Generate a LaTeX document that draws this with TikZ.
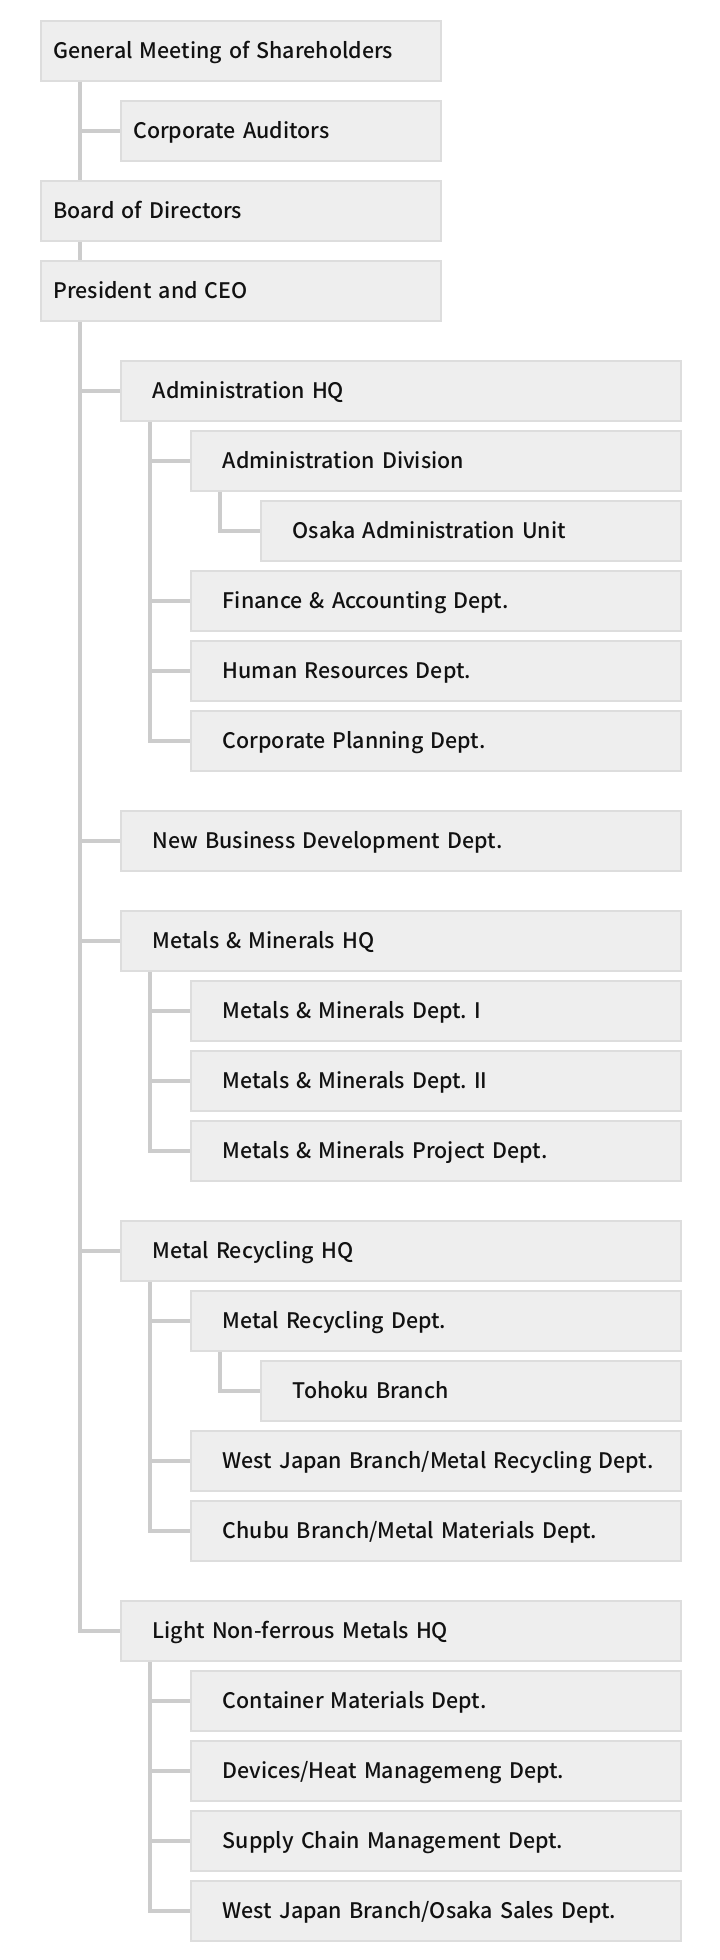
\documentclass[tikz,border=0pt]{standalone}
\usepackage{fontspec}
\setmainfont{Noto Sans CJK JP}[UprightFont={* Medium}]
\frenchspacing
\definecolor{boxfill}{HTML}{EEEEEE}
\definecolor{boxline}{HTML}{DDDDDD}
\definecolor{conncol}{HTML}{CCCCCC}
\definecolor{txt}{HTML}{111111}
\begin{document}
\begin{tikzpicture}[x=1pt,y=-1pt,
  box/.style={draw=boxline, fill=boxfill, line width=1.5pt, anchor=north west,
    minimum height=60pt, inner ysep=2pt, text height=15.4pt, text depth=0pt,
    align=left, text=txt, font=\fontsize{21.4pt}{24pt}\selectfont},
  wtop/.style={inner xsep=12.5pt, text width=375pt},
  wca/.style={inner xsep=12.5pt, text width=295pt},
  wone/.style={inner xsep=32pt, text width=496pt},
  wtwo/.style={inner xsep=32pt, text width=426pt},
  wthree/.style={inner xsep=32pt, text width=356pt},
  conn/.style={draw=conncol, line width=4pt}]
\useasboundingbox (0,0) rectangle (720,1960);
% boxes
\node[box,wtop] (gm) at (40,20) {General Meeting of Shareholders};
\node[box,wca] (ca) at (120,100) {Corporate Auditors};
\node[box,wtop] (board) at (40,180) {Board of Directors};
\node[box,wtop] (pres) at (40,260) {President and CEO};
\node[box,wone] (admhq) at (120,360) {Administration HQ};
\node[box,wtwo] (admdiv) at (190,430) {Administration Division};
\node[box,wthree] (osaka) at (260,500) {Osaka Administration Unit};
\node[box,wtwo] (fin) at (190,570) {Finance \& Accounting Dept.};
\node[box,wtwo] (hr) at (190,640) {Human Resources Dept.};
\node[box,wtwo] (cp) at (190,710) {Corporate Planning Dept.};
\node[box,wone] (newbiz) at (120,810) {New Business Development Dept.};
\node[box,wone] (mmhq) at (120,910) {Metals \& Minerals HQ};
\node[box,wtwo] (mmone) at (190,980) {Metals \& Minerals Dept. I};
\node[box,wtwo] (mmtwo) at (190,1050) {Metals \& Minerals Dept. II};
\node[box,wtwo] (mmproj) at (190,1120) {Metals \& Minerals Project Dept.};
\node[box,wone] (mrhq) at (120,1220) {Metal Recycling HQ};
\node[box,wtwo] (mrdept) at (190,1290) {Metal Recycling Dept.};
\node[box,wthree] (tohoku) at (260,1360) {Tohoku Branch};
\node[box,wtwo] (wjmr) at (190,1430) {\mbox{West Japan Branch/Metal Recycling Dept.}};
\node[box,wtwo] (chubu) at (190,1500) {Chubu Branch/Metal Materials Dept.};
\node[box,wone] (lnf) at (120,1600) {Light Non-ferrous Metals HQ};
\node[box,wtwo] (cont) at (190,1670) {Container Materials Dept.};
\node[box,wtwo] (dev) at (190,1740) {Devices/Heat Managemeng Dept.};
\node[box,wtwo] (sup) at (190,1810) {Supply Chain Management Dept.};
\node[box,wtwo] (wjos) at (190,1880) {West Japan Branch/Osaka Sales Dept.};
% connectors
\coordinate (t0) at ([xshift=40pt]gm.south west);
\draw[conn] (t0) -- (t0 |- board.north);
\draw[conn] (t0) |- (ca.west);
\coordinate (t1) at ([xshift=40pt]board.south west);
\draw[conn] (t1) -- (t1 |- pres.north);
\coordinate (t2) at ([xshift=40pt]pres.south west);
\draw[conn] (t2) |- (lnf.west);
\foreach \n in {admhq,newbiz,mmhq,mrhq}{\draw[conn] (\n.west) -- (\n.west -| t2);}
% Administration HQ
\coordinate (a1) at ([xshift=30pt]admhq.south west);
\draw[conn] (a1) |- (cp.west);
\foreach \n in {admdiv,fin,hr}{\draw[conn] (\n.west) -- (\n.west -| a1);}
\coordinate (a2) at ([xshift=30pt]admdiv.south west);
\draw[conn] (a2) |- (osaka.west);
% Metals & Minerals HQ
\coordinate (m1) at ([xshift=30pt]mmhq.south west);
\draw[conn] (m1) |- (mmproj.west);
\foreach \n in {mmone,mmtwo}{\draw[conn] (\n.west) -- (\n.west -| m1);}
% Metal Recycling HQ
\coordinate (r1) at ([xshift=30pt]mrhq.south west);
\draw[conn] (r1) |- (chubu.west);
\foreach \n in {mrdept,wjmr}{\draw[conn] (\n.west) -- (\n.west -| r1);}
\coordinate (r2) at ([xshift=30pt]mrdept.south west);
\draw[conn] (r2) |- (tohoku.west);
% Light Non-ferrous Metals HQ
\coordinate (l1) at ([xshift=30pt]lnf.south west);
\draw[conn] (l1) |- (wjos.west);
\foreach \n in {cont,dev,sup}{\draw[conn] (\n.west) -- (\n.west -| l1);}
\end{tikzpicture}
\end{document}
